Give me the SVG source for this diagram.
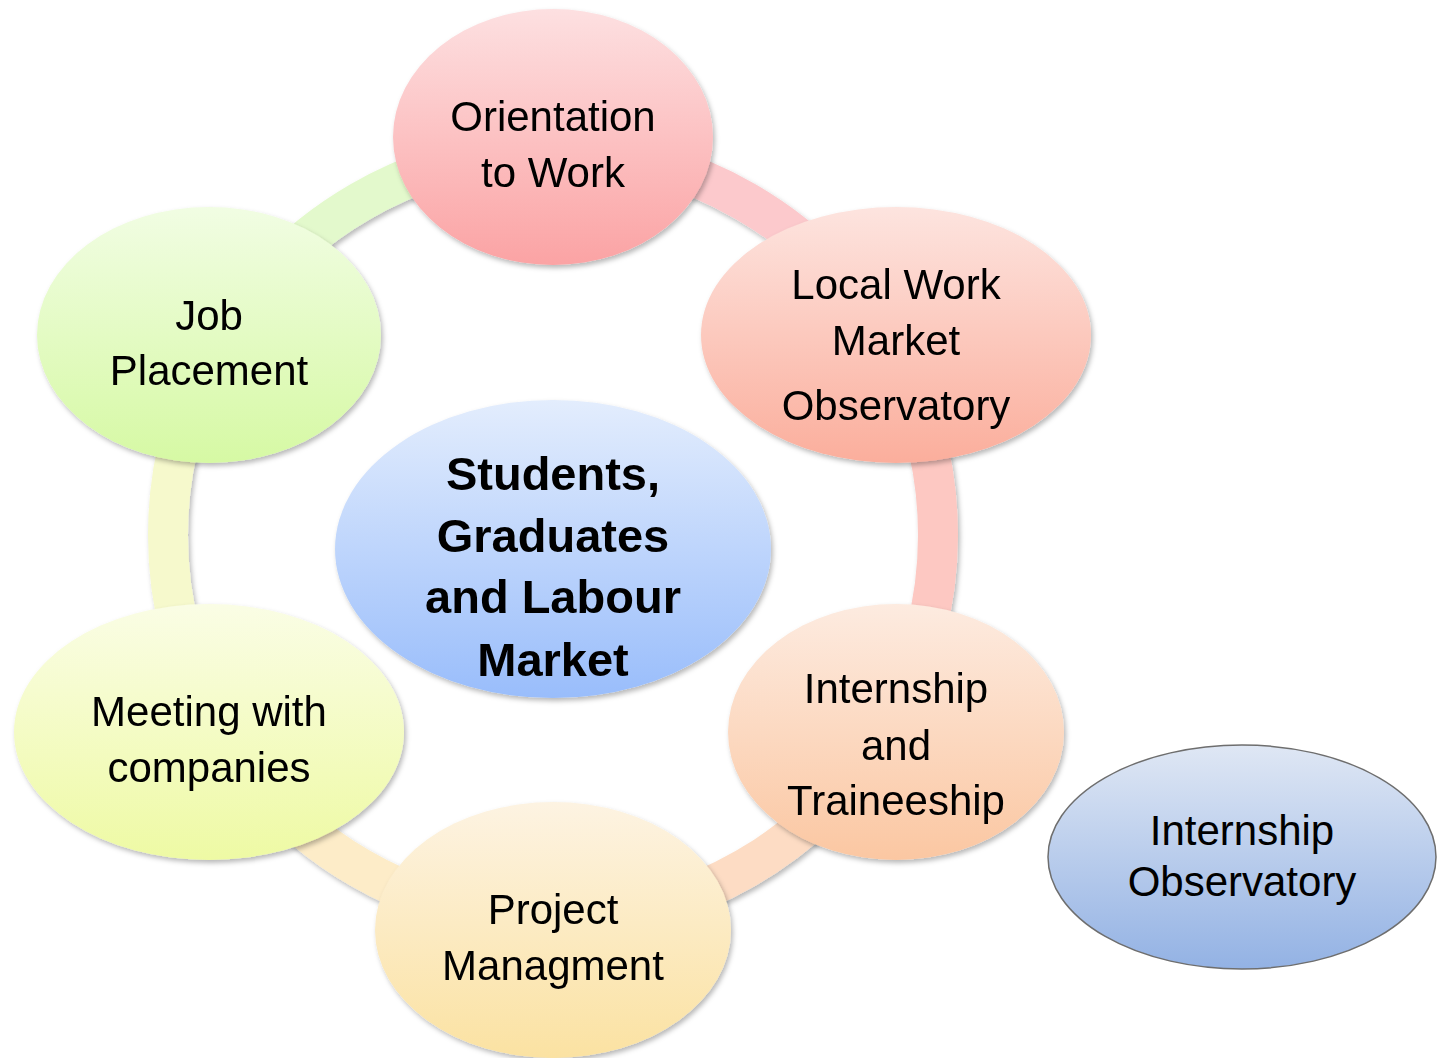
<svg xmlns="http://www.w3.org/2000/svg" width="1443" height="1058" viewBox="0 0 1443 1058">
<style>
text{font-family:"Liberation Sans",Arial,sans-serif;font-size:42px;fill:#000;text-anchor:middle}
.b{font-weight:bold;font-size:47px}
.ring path{fill:none;stroke-width:40}
.n{filter:url(#sh)}
</style>
<defs>
<filter id="sh" x="-10%" y="-10%" width="125%" height="125%">
<feDropShadow dx="2" dy="3" stdDeviation="2.5" flood-color="#000" flood-opacity="0.28"/>
</filter>
<linearGradient id="gOr" x1="0" y1="0" x2="0" y2="1"><stop offset="0" stop-color="#fde0e1"/><stop offset="1" stop-color="#fba3a4"/></linearGradient>
<linearGradient id="gLo" x1="0" y1="0" x2="0" y2="1"><stop offset="0" stop-color="#fde4df"/><stop offset="1" stop-color="#fbae9c"/></linearGradient>
<linearGradient id="gIn" x1="0" y1="0" x2="0" y2="1"><stop offset="0" stop-color="#fdebe0"/><stop offset="1" stop-color="#fbc7a2"/></linearGradient>
<linearGradient id="gPr" x1="0" y1="0" x2="0" y2="1"><stop offset="0" stop-color="#fdf3e2"/><stop offset="1" stop-color="#fbe2a2"/></linearGradient>
<linearGradient id="gMe" x1="0" y1="0" x2="0" y2="1"><stop offset="0" stop-color="#fafde5"/><stop offset="1" stop-color="#eefaa4"/></linearGradient>
<linearGradient id="gJo" x1="0" y1="0" x2="0" y2="1"><stop offset="0" stop-color="#f1fde3"/><stop offset="1" stop-color="#d6f9a4"/></linearGradient>
<linearGradient id="gCe" x1="0" y1="0" x2="0" y2="1"><stop offset="0" stop-color="#e3edfd"/><stop offset="1" stop-color="#99bdfb"/></linearGradient>
<linearGradient id="gIO" x1="0" y1="0" x2="0" y2="1"><stop offset="0" stop-color="#dfe7f4"/><stop offset="1" stop-color="#93b2e4"/></linearGradient>
</defs>
<g id="connectors" class="ring" filter="url(#sh)">
<path d="M553 150 A385 385 0 0 1 886.42 342.5" stroke="#fcc9cc"/>
<path d="M886.42 342.5 A385 385 0 0 1 886.42 727.5" stroke="#fdc8c2"/>
<path d="M886.42 727.5 A385 385 0 0 1 553 920" stroke="#fddcc4"/>
<path d="M553 920 A385 385 0 0 1 219.58 727.5" stroke="#fdecc8"/>
<path d="M219.58 727.5 A385 385 0 0 1 219.58 342.5" stroke="#f6f9cc"/>
<path d="M219.58 342.5 A385 385 0 0 1 553 150" stroke="#e3f9cc"/>
</g>
<g id="orientation" class="n"><ellipse cx="553" cy="137" rx="160" ry="128" fill="url(#gOr)"/>
<text x="553" y="131">Orientation</text><text x="553" y="187">to Work</text></g>
<g id="local" class="n"><ellipse cx="896" cy="335" rx="195" ry="128" fill="url(#gLo)"/>
<text x="896" y="299">Local Work</text><text x="896" y="355">Market</text><text x="896" y="420">Observatory</text></g>
<g id="internship" class="n"><ellipse cx="896" cy="732" rx="168" ry="128" fill="url(#gIn)"/>
<text x="896" y="703">Internship</text><text x="896" y="760">and</text><text x="896" y="815">Traineeship</text></g>
<g id="project" class="n"><ellipse cx="553" cy="930" rx="178" ry="128" fill="url(#gPr)"/>
<text x="553" y="924">Project</text><text x="553" y="980">Managment</text></g>
<g id="meeting" class="n"><ellipse cx="209" cy="732" rx="195" ry="128" fill="url(#gMe)"/>
<text x="209" y="726">Meeting with</text><text x="209" y="782">companies</text></g>
<g id="job" class="n"><ellipse cx="209" cy="335" rx="172" ry="128" fill="url(#gJo)"/>
<text x="209" y="330">Job</text><text x="209" y="385">Placement</text></g>
<g id="center" class="n"><ellipse cx="553" cy="549" rx="218" ry="149" fill="url(#gCe)"/>
<text class="b" x="553" y="490">Students,</text><text class="b" x="553" y="552">Graduates</text><text class="b" x="553" y="613">and Labour</text><text class="b" x="553" y="676">Market</text></g>
<g id="internship-observatory"><ellipse cx="1242" cy="857" rx="194" ry="112" fill="url(#gIO)" stroke="#6e6e6e" stroke-width="1.5"/>
<text x="1242" y="845">Internship</text><text x="1242" y="896">Observatory</text></g>
</svg>
